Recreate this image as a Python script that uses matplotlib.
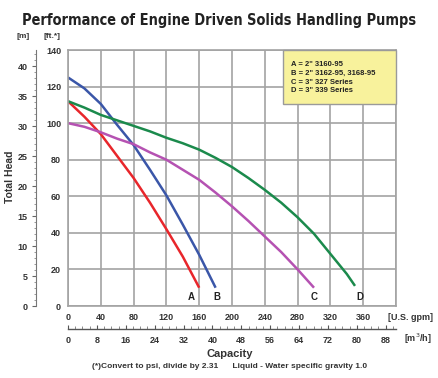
import matplotlib
matplotlib.use("Agg")
import matplotlib.pyplot as plt
from matplotlib.patches import Rectangle
from matplotlib.ticker import MultipleLocator
from matplotlib import font_manager as fm

# ---- data (U.S. gpm vs total head in ft) ----
a_gpm = [0, 20, 40, 60, 80, 100, 120, 140, 160]
a_ft = [112, 103.5, 94, 82, 70, 56.5, 42, 27, 10]
b_gpm = [0, 20, 40, 60, 80, 100, 120, 140, 160, 180]
b_ft = [125, 119, 110.5, 99, 88, 74.5, 60.5, 44.5, 28, 10]
c_gpm = [0, 20, 40, 60, 80, 100, 120, 140, 160, 180, 200, 220, 240, 260, 280, 300]
c_ft = [100, 98, 95, 91.5, 88.5, 84, 80, 74.5, 69, 62, 54.5, 46.5, 38, 29.5, 20, 10]
d_gpm = [0, 20, 40, 60, 80, 100, 120, 140, 160, 180, 200, 220, 240, 260, 280, 300, 320, 340, 350]
d_ft = [112, 108.5, 104.5, 101.5, 98.5, 95.5, 92, 89, 85.5, 81, 76, 70, 63.5, 56.5, 48.5, 39.5, 28.5, 17.5, 11]

curve_labels = ["A", "B", "C", "D"]
legend_lines = ['A = 2" 3160-95', 'B = 2" 3162-95, 3168-95',
                'C = 3" 327 Series', 'D = 3" 339 Series']
gpm_ticks = [0, 40, 80, 120, 160, 200, 240, 280, 320, 360]
m3h_ticks = [0, 8, 16, 24, 32, 40, 48, 56, 64, 72, 80, 88]
ft_ticks = [0, 20, 40, 60, 80, 100, 120, 140]
m_ticks = [0, 5, 10, 15, 20, 25, 30, 35, 40]

GPM_PER_M3H = 4.4029
FT_PER_M = 3.2808

W, H = 438, 378
fig = plt.figure(figsize=(W / 100, H / 100), dpi=100)
fig.patch.set_facecolor("white")

def fx(px):
    return px / W

def fy(py):
    return 1 - py / H

L, R, T, B = 68, 396, 50, 306
ax = fig.add_axes([fx(L), fy(B), (R - L) / W, (B - T) / H])
ax.set_xlim(0, 400)
ax.set_ylim(0, 140)
gridc = "#a3a3a3"
ax.set_xticks(list(range(0, 401, 40)))
ax.set_yticks(ft_ticks)
ax.grid(True, color=gridc, linewidth=1.2)
for s in ax.spines.values():
    s.set_color(gridc)
    s.set_linewidth(1.2)
ax.tick_params(length=0, labelsize=6.5, colors="#333333", pad=5)
ax.set_xticklabels([str(v) if v in gpm_ticks else "" for v in range(0, 401, 40)])
for t in ax.get_xticklabels() + ax.get_yticklabels():
    t.set_fontweight("bold")
    t.set_family("Liberation Sans")

cols = ["#e8262b", "#3a56a8", "#b552b2", "#1b8a4c"]
for xs, ys, c in [(a_gpm, a_ft, cols[0]), (b_gpm, b_ft, cols[1]),
                  (c_gpm, c_ft, cols[2]), (d_gpm, d_ft, cols[3])]:
    ax.plot(xs, ys, color=c, lw=1.8, solid_capstyle="butt", solid_joinstyle="round")

ends = [(a_gpm[-1], "A", -10), (b_gpm[-1], "B", 2), (c_gpm[-1], "C", 0), (d_gpm[-1], "D", 6)]
for g, lab, dx in ends:
    ax.text(g + dx, 5, lab, ha="center", va="center", fontsize=7, fontweight="bold",
            family="Liberation Sans", color="#222222")

# legend box
bx0, bx1, by0, by1 = 283, 396, 50, 104
fig.add_artist(Rectangle((fx(bx0), fy(by1)), (bx1 - bx0) / W, (by1 - by0) / H,
                         transform=fig.transFigure, facecolor="#f8f29c",
                         edgecolor="#9a9a9a", linewidth=1.0, zorder=5))
for i, line in enumerate(legend_lines):
    fig.text(fx(291), fy(64.5 + i * 8.8), line, fontsize=5.5, fontweight="bold",
             family="Liberation Sans", color="#222222", va="center", zorder=6)

# secondary m3/h axis
ax2 = fig.add_axes([fx(L), fy(329), (R - L) / W, 0.0001])
ax2.set_xlim(0, 400 / GPM_PER_M3H)
ax2.set_yticks([])
for k in ["top", "left", "right"]:
    ax2.spines[k].set_visible(False)
ax2.spines["bottom"].set_color("#555555")
ax2.spines["bottom"].set_linewidth(1.0)
ax2.set_xticks(m3h_ticks)
ax2.xaxis.set_minor_locator(MultipleLocator(2))
ax2.tick_params(axis="x", which="major", direction="in", length=3, color="#555555",
                labelsize=6.5, labelcolor="#333333", pad=5)
ax2.tick_params(axis="x", which="minor", direction="in", length=2, color="#777777")
for t in ax2.get_xticklabels():
    t.set_fontweight("bold")
    t.set_family("Liberation Sans")

# meter axis
ax3 = fig.add_axes([fx(36), fy(B), 0.0001, (B - T) / H])
ax3.set_ylim(0, 140 / FT_PER_M)
ax3.set_xticks([])
for k in ["top", "bottom", "right"]:
    ax3.spines[k].set_visible(False)
ax3.spines["left"].set_color("#777777")
ax3.spines["left"].set_linewidth(0.8)
ax3.set_yticks(m_ticks)
ax3.yaxis.set_minor_locator(MultipleLocator(1))
ax3.tick_params(axis="y", which="major", direction="out", length=3, color="#666666",
                labelsize=6.5, labelcolor="#333333", pad=3)
ax3.tick_params(axis="y", which="minor", direction="out", length=1.5, color="#888888")
for t in ax3.get_yticklabels():
    t.set_fontweight("bold")
    t.set_family("Liberation Sans")

# title: prefer a condensed bold face file if available; fit to ~395 px wide
title_str = "Performance of Engine Driven Solids Handling Pumps"
fp = None
for f in fm.fontManager.ttflist:
    fn = f.fname.lower()
    if ("condensed" in fn or "narrow" in fn) and "bold" in fn and "oblique" not in fn and "italic" not in fn:
        fp = fm.FontProperties(fname=f.fname)
        break
if fp is None:
    fp = fm.FontProperties(family="Liberation Sans", weight="bold")
fp.set_size(13)
title = fig.text(0.5, fy(21), title_str, ha="center", va="center",
                 fontproperties=fp, color="#222222")
renderer = fig.canvas.get_renderer()
wpx = title.get_window_extent(renderer).width
size = min(14.5, 13 * 395.0 / wpx)
fp2 = fp.copy()
fp2.set_size(size)
title.set_fontproperties(fp2)

fig.text(fx(23), fy(37), "[m]", ha="center", va="center", fontsize=6, fontweight="bold",
         family="Liberation Sans", color="#333333")
fig.text(fx(52), fy(37), "[ft.*]", ha="center", va="center", fontsize=6, fontweight="bold",
         family="Liberation Sans", color="#333333")
fig.text(fx(10), fy(177), "Total Head", ha="center", va="center", rotation=90, fontsize=7.5,
         fontweight="bold", family="Liberation Sans", color="#333333")
fig.text(fx(410), fy(318), "[U.S. gpm]", ha="center", va="center", fontsize=6.5,
         fontweight="bold", family="Liberation Sans", color="#333333")
fig.text(fx(418), fy(339), "[m$^3$/h]", ha="center", va="center", fontsize=6.5,
         fontweight="bold", family="Liberation Sans", color="#333333")
fig.text(fx(230), fy(354), "Capacity", ha="center", va="center", fontsize=8,
         fontweight="bold", family="Liberation Sans", color="#333333")
fig.text(fx(230), fy(367),
         "(*)Convert to psi, divide by 2.31      Liquid - Water specific gravity 1.0",
         ha="center", va="center", fontsize=6, fontweight="bold",
         family="Liberation Sans", color="#333333")

fig.savefig("out.png", dpi=100, facecolor="white")
